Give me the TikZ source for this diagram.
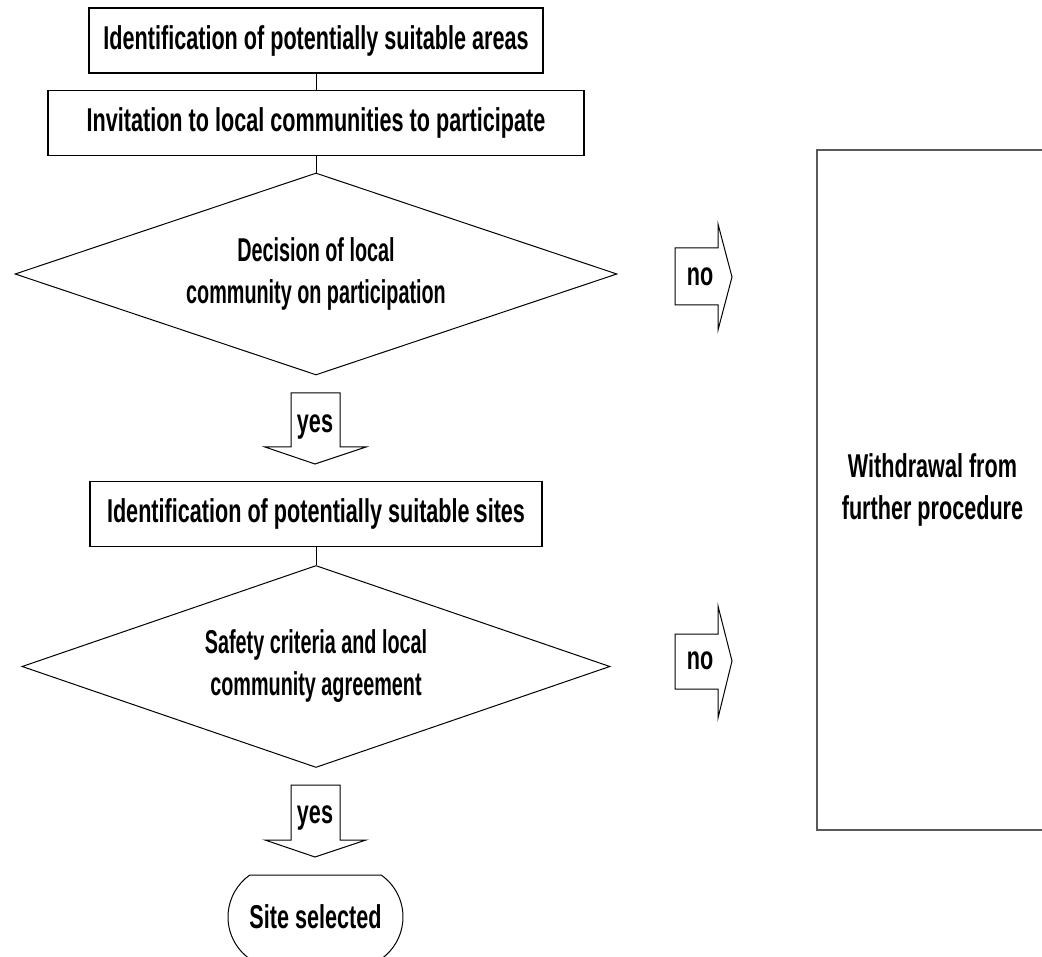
\documentclass[tikz,border=0pt]{standalone}
\usepackage{fontspec}
\setmainfont{Liberation Sans}[FakeStretch=0.655]
\newfontfamily\narrowfont{Liberation Sans}[FakeStretch=0.6]
\usetikzlibrary{shapes,positioning,calc}

\begin{document}
\begin{tikzpicture}[
    x=1pt, y=-1pt,
    font=\fontsize{33}{42}\selectfont\bfseries,
    procbox/.style={
        draw=black,
        minimum width=#1,
        minimum height=65pt,
        inner sep=0pt,
        align=center,
        line width=1.3pt
    },
    decision/.style={
        diamond,
        aspect=3,
        draw=black,
        minimum width=#1,
        minimum height=202pt,
        inner sep=0pt,
        align=center,
        font=\narrowfont\fontsize{33}{42}\selectfont\bfseries,
        line width=1pt
    },
    blockarrow/.style={draw=black, line width=1pt, line join=miter},
    link/.style={line width=1pt}
]
\useasboundingbox (0,0) rectangle (1042,957);

%-----------------------------------
% Main column
%-----------------------------------
\node[procbox=454pt] (Areas) at (316,40.5) {Identification of potentially suitable areas};
\node[procbox=536pt] (Invite) at (316,123) {Invitation to local communities to participate};
\node[decision=602pt] (Decide) at (316,274) {Decision of local\\community on participation};

\node (YesA) at (315,427) {yes};

\node[procbox=452pt] (Sites) at (316,514) {Identification of potentially suitable sites};
\node[decision=588pt] (Agree) at (316,666.5) {Safety criteria and local\\community agreement};

\node (YesB) at (315,818) {yes};

\node[rounded rectangle, rounded rectangle arc length=110, draw=black,
      line width=1pt, minimum width=175pt, minimum height=84pt,
      inner sep=0pt] (Site) at (315.5,917) {Site selected};

%-----------------------------------
% Right side
%-----------------------------------
\node (NoA) at (700,277) {no};
\node (NoB) at (700,661) {no};

\node[draw=black!65, line width=2.5pt, minimum width=231pt,
      minimum height=680pt, align=center] (Withdraw) at (932.5,490)
      {Withdrawal from\\further procedure};

%-----------------------------------
% Connectors
%-----------------------------------
\draw[link] (Areas) -- (Invite);
\draw[link] (Invite) -- (Decide);
\draw[link] (Sites) -- (Agree);

\draw[blockarrow, shift={(YesA)}] (-24,-34) -- (25,-34) -- (25,20) -- (51,20)
    -- (0,37) -- (-50,20) -- (-24,20) -- cycle;
\draw[blockarrow, shift={(YesB)}] (-24,-33) -- (25,-33) -- (25,22) -- (51,22)
    -- (0,39) -- (-50,22) -- (-24,22) -- cycle;

\draw[blockarrow, shift={(NoA)}] (-25,-29) -- (18,-29) -- (18,-53) -- (32,0)
    -- (18,53) -- (18,28) -- (-25,28) -- cycle;
\draw[blockarrow, shift={(NoB)}] (-25,-27) -- (18,-27) -- (18,-55) -- (32,0)
    -- (18,57) -- (18,28) -- (-25,28) -- cycle;

\end{tikzpicture}
\end{document}
